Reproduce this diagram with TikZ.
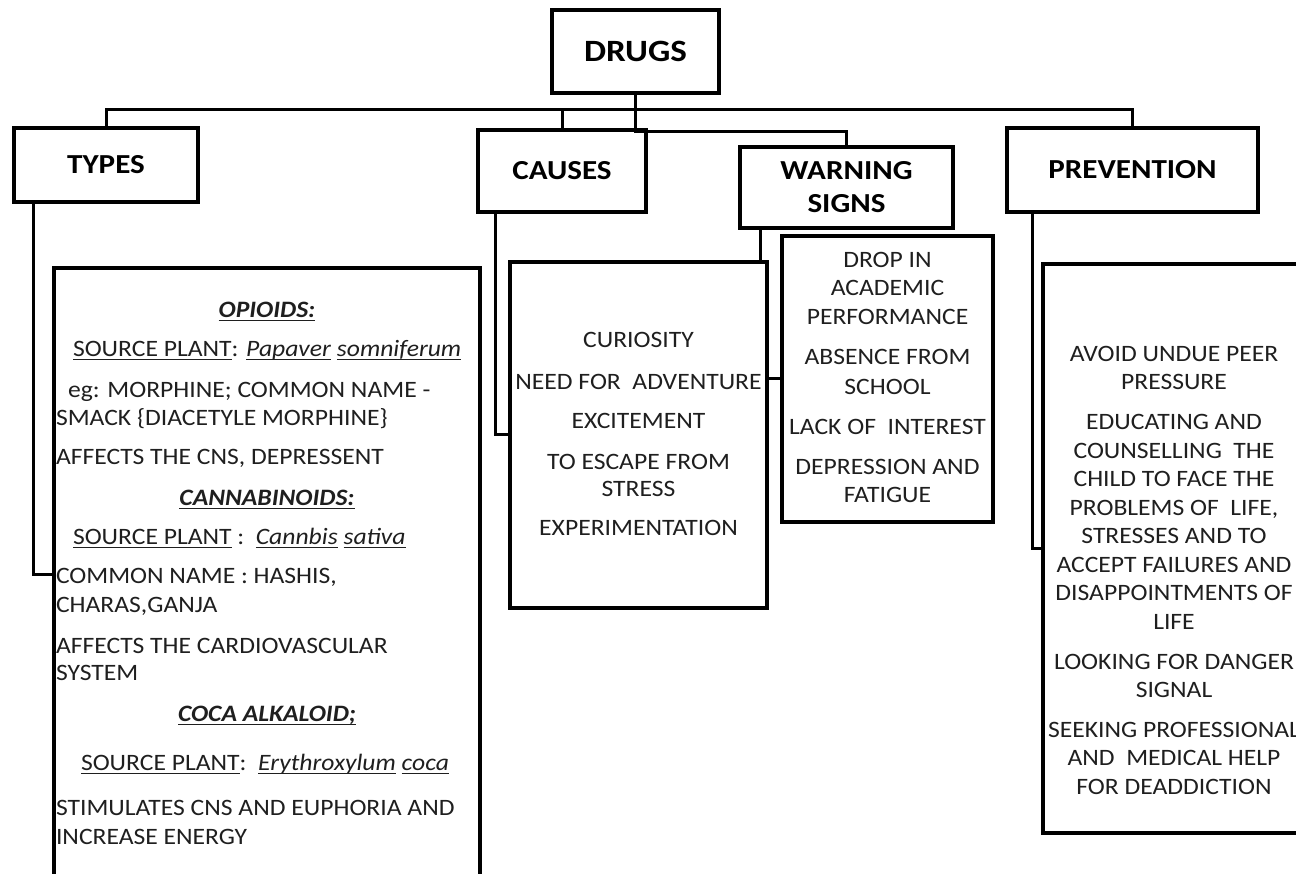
\documentclass[tikz,border=0pt]{standalone}
\usepackage{fontspec}
\setmainfont{Carlito}[FakeStretch=1.09]
\newfontfamily\headfont{Carlito}[FakeStretch=1.13]
% underline a word with a rule just below the baseline
\newcommand\ulin[1]{\leavevmode\setbox0\hbox{#1}\rlap{\rule[-3.8pt]{\wd0}{1.4pt}}\box0\relax}
\begin{document}
\begin{tikzpicture}[x=1pt,y=-1pt,
  every node/.style={inner sep=0pt,outer sep=0pt},
  box/.style={draw,line width=3.8pt},
  conn/.style={line width=3pt},
  head/.style={font=\headfont\bfseries\fontsize{27.5}{33}\selectfont,align=center},
  body/.style={font=\fontsize{23.5}{28.5}\selectfont,text=black!88,anchor=base},
  lft/.style={body,anchor=base west}]
\useasboundingbox (0,0) rectangle (1296,874);
\fill[white] (0,0) rectangle (1296,874);
\clip (0,0) rectangle (1296,874);

% heading boxes
\node[box,head,font=\headfont\bfseries\fontsize{31}{33}\selectfont,
      minimum width=167pt,minimum height=83pt] (drugs) at (635.5,51.5) {DRUGS};
\node[box,head,minimum width=184pt,minimum height=74pt] (types) at (106,165) {TYPES};
\node[box,head,minimum width=168pt,minimum height=82pt] (causes) at (562,171) {CAUSES};
\node[box,head,minimum width=213pt,minimum height=81pt] (warn) at (846.5,187.5) {WARNING\\SIGNS};
\node[box,head,minimum width=251pt,minimum height=84pt] (prev) at (1132.5,170) {PREVENTION};

% content boxes
\node[box,minimum width=426pt,minimum height=612pt] (tbox) at (267,574) {};
\node[box,minimum width=257pt,minimum height=346pt] (cbox) at (638.5,435) {};
\node[box,minimum width=211pt,minimum height=286pt] (wbox) at (887.5,379) {};
\node[box,minimum width=262pt,minimum height=569pt] (pbox) at (1174,548.5) {};

% tree connectors
\coordinate (busL) at (106,110);
\coordinate (busR) at (1132.5,110);
\coordinate (fork) at (635.5,132);
\draw[conn] (types.north) -- (busL) -- (busR) -- (prev.north);
\draw[conn] (causes.north) -- (causes.north |- busL);
\draw[conn] (drugs.south) -- (fork) -| (warn.north);
\draw[conn] ([xshift=19pt]types.south west) |- (tbox.west);
\draw[conn] ([xshift=17pt]causes.south west) |- (cbox.west);
\draw[conn] ([xshift=20pt]warn.south west) -- ([xshift=20pt]warn.south west |- cbox.north);
\draw[conn] (cbox.east |- wbox.west) -- (wbox.west);
\draw[conn] ([xshift=25pt]prev.south west) |- (pbox.west);

% types of drugs
\node[body] (t1) at (267,317.5) {\ulin{\textbf{\textit{OPIOIDS:}}}};
\node[lft] (t2) at (73,356.5) {\ulin{SOURCE PLANT}: \ulin{\textit{Papaver}} \ulin{\textit{somniferum}}};
\node[lft] (t3) at (68,397.5) {eg: MORPHINE; COMMON NAME -};
\node[lft] (t4) at (56,425.5) {SMACK \{DIACETYLE MORPHINE\}};
\node[lft] (t5) at (56,464.5) {AFFECTS THE CNS, DEPRESSENT};
\node[body] (t6) at (267,505.5) {\ulin{\textbf{\textit{CANNABINOIDS:}}}};
\node[lft] (t7) at (73,544.5) {\ulin{SOURCE PLANT} :\ \ \ulin{\textit{Cannbis}} \ulin{\textit{sativa}}};
\node[lft] (t8) at (56,583.5) {COMMON NAME : HASHIS,};
\node[lft] (t9) at (56,612.5) {CHARAS,GANJA};
\node[lft] (t10) at (56,653.5) {AFFECTS THE CARDIOVASCULAR};
\node[lft] (t11) at (56,680.5) {SYSTEM};
\node[body] (t12) at (267,721.5) {\ulin{\textbf{\textit{COCA ALKALOID;}}}};
\node[lft] (t13) at (81,770.5) {\ulin{SOURCE PLANT}:\ \ \ulin{\textit{Erythroxylum}} \ulin{\textit{coca}}};
\node[lft] (t14) at (56,815.5) {STIMULATES CNS AND EUPHORIA AND};
\node[lft] (t15) at (56,844.5) {INCREASE ENERGY};

% causes
\node[body] (c1) at (638.5,347.5) {CURIOSITY};
\node[body] (c2) at (638.5,389.5) {NEED FOR\ \ ADVENTURE};
\node[body] (c3) at (638.5,428.5) {EXCITEMENT};
\node[body] (c4) at (638.5,469.5) {TO ESCAPE FROM};
\node[body] (c5) at (638.5,496.5) {STRESS};
\node[body] (c6) at (638.5,535.5) {EXPERIMENTATION};

% warning signs
\node[body] (w1) at (887.5,267.5) {DROP IN};
\node[body] (w2) at (887.5,295.5) {ACADEMIC};
\node[body] (w3) at (887.5,324.5) {PERFORMANCE};
\node[body] (w4) at (887.5,364.5) {ABSENCE FROM};
\node[body] (w5) at (887.5,394.5) {SCHOOL};
\node[body] (w6) at (887.5,434.5) {LACK OF\ \ INTEREST};
\node[body] (w7) at (887.5,474.5) {DEPRESSION AND};
\node[body] (w8) at (887.5,502.5) {FATIGUE};

% prevention
\node[body] (p1) at (1174,361.5) {AVOID UNDUE PEER};
\node[body] (p2) at (1174,389.5) {PRESSURE};
\node[body] (p3) at (1174,429.5) {EDUCATING AND};
\node[body] (p4) at (1174,458.5) {COUNSELLING\ \ THE};
\node[body] (p5) at (1174,486.5) {CHILD TO FACE THE};
\node[body] (p6) at (1174,515.5) {PROBLEMS OF\ \ LIFE,};
\node[body] (p7) at (1174,543.5) {STRESSES AND TO};
\node[body] (p8) at (1174,572.5) {ACCEPT FAILURES AND};
\node[body] (p9) at (1174,600.5) {DISAPPOINTMENTS OF};
\node[body] (p10) at (1174,629.5) {LIFE};
\node[body] (p11) at (1174,669.5) {LOOKING FOR DANGER};
\node[body] (p12) at (1174,697.5) {SIGNAL};
\node[body] (p13) at (1174,737.5) {SEEKING PROFESSIONAL};
\node[body] (p14) at (1174,765.5) {AND\ \ MEDICAL HELP};
\node[body] (p15) at (1174,794.5) {FOR DEADDICTION};
\end{tikzpicture}
\end{document}
